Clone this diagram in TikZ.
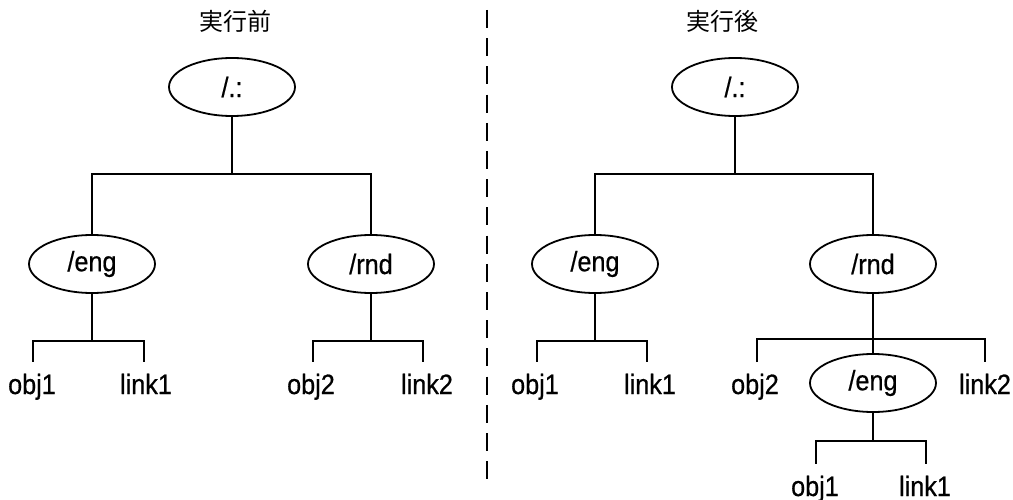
\documentclass[tikz,border=0pt]{standalone}
\usepackage{fontspec}
\usetikzlibrary{shapes.geometric}
\newfontfamily\labfont[FakeStretch=0.9,FakeBold=0.6]{Liberation Sans}
\newfontfamily\cjk{Noto Sans CJK JP}
\begin{document}
\begin{tikzpicture}[x=1pt,y=-1pt,line width=1.8pt,
  dirnode/.style={draw,ellipse,minimum width=126pt,minimum height=58pt,inner sep=0pt,
    font=\labfont\fontsize{28}{30}\selectfont},
  leaf/.style={anchor=base,inner xsep=0pt,inner ysep=11pt,text height=20pt,text depth=6pt,
    font=\labfont\fontsize{28}{30}\selectfont},
  heading/.style={font=\cjk\fontsize{24}{28}\selectfont,inner sep=0pt},
  divider/.style={dash pattern=on 18pt off 10.2pt}]
\useasboundingbox (0,0) rectangle (1013,500);

% ---- before ----
\node[heading] (titleA) at (235,21) {実行前};
\node[dirnode] (rootA) at (232,87) {/.:};
\node[dirnode] (engA) at (92,264) {/eng};
\node[dirnode] (rndA) at (371,264) {/rnd};
\node[leaf] (objA) at (32,394) {obj1};
\node[leaf] (linkA) at (146,394) {link1};
\node[leaf] (objB) at (311,394) {obj2};
\node[leaf] (linkB) at (427,394) {link2};

\draw (rootA.south) -- ++(0,58);
\draw (engA.north) -- ++(0,-60) -| (rndA.north);
\draw (engA.south) -- ++(0,47) coordinate (jA) -| ([xshift=1pt]objA.north);
\draw (jA) -| ([xshift=-2pt]linkA.north);
\draw (rndA.south) -- ++(0,47) coordinate (jB) -| ([xshift=2pt]objB.north);
\draw (jB) -| ([xshift=-4pt]linkB.north);

% ---- divider ----
\coordinate (divTop) at (487,10);
\coordinate (divBot) at (487,480);
\draw[divider] (divTop) -- (divBot);

% ---- after ----
\node[heading] (titleB) at (722,21) {実行後};
\node[dirnode] (rootB) at (735,87) {/.:};
\node[dirnode] (engB) at (595,264) {/eng};
\node[dirnode] (rndB) at (873,264) {/rnd};
\node[dirnode] (engC) at (873,383) {/eng};
\node[leaf] (objC) at (535,394) {obj1};
\node[leaf] (linkC) at (650,394) {link1};
\node[leaf] (objD) at (755,394) {obj2};
\node[leaf] (linkD) at (985,394) {link2};
\node[leaf] (objE) at (815,496) {obj1};
\node[leaf] (linkE) at (925,496) {link1};

\draw (rootB.south) -- ++(0,58);
\draw (engB.north) -- ++(0,-60) -| (rndB.north);
\draw (engB.south) -- ++(0,47) coordinate (jC) -| ([xshift=2pt]objC.north);
\draw (jC) -| ([xshift=-3pt]linkC.north);
\draw (rndB.south) -- (engC.north);
\draw ([xshift=2pt]objD.north) -- ++(0,-23) -| (linkD.north);
\draw (engC.south) -- ++(0,28) coordinate (jE) -| ([xshift=1pt]objE.north);
\draw (jE) -| ([xshift=1pt]linkE.north);
\end{tikzpicture}
\end{document}
